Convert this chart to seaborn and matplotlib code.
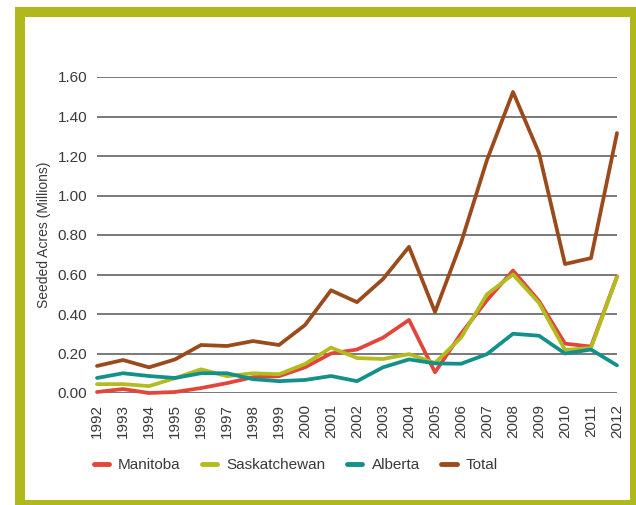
import pandas as pd
import matplotlib.pyplot as plt
import seaborn as sns
from matplotlib.patches import Rectangle

years = list(range(1992, 2013))
manitoba = [0.005, 0.02, 0.0, 0.005, 0.025, 0.05, 0.08, 0.085, 0.13, 0.20, 0.22,
            0.28, 0.37, 0.105, 0.30, 0.47, 0.62, 0.466, 0.25, 0.235, 0.59]
saskatchewan = [0.045, 0.045, 0.035, 0.075, 0.12, 0.085, 0.10, 0.095, 0.147, 0.23, 0.177,
                0.172, 0.197, 0.152, 0.28, 0.50, 0.60, 0.456, 0.218, 0.228, 0.587]
alberta = [0.076, 0.10, 0.086, 0.076, 0.10, 0.10, 0.07, 0.06, 0.066, 0.086, 0.06,
           0.13, 0.17, 0.15, 0.148, 0.197, 0.30, 0.29, 0.20, 0.22, 0.14]
total = [0.137, 0.167, 0.13, 0.17, 0.243, 0.238, 0.263, 0.243, 0.344, 0.52, 0.46,
         0.577, 0.74, 0.41, 0.76, 1.18, 1.524, 1.215, 0.653, 0.683, 1.316]

series = ['Manitoba', 'Saskatchewan', 'Alberta', 'Total']
colors = ['#e2463a', '#b3bc1f', '#14908a', '#9b4a1b']
frame_green = '#b0b91c'

df = pd.DataFrame({'year': years, 'Manitoba': manitoba, 'Saskatchewan': saskatchewan,
                   'Alberta': alberta, 'Total': total})
df_melt = df.melt(id_vars='year', var_name='region', value_name='acres')

sns.set_style('white')
plt.rcParams['font.family'] = ['Liberation Sans', 'DejaVu Sans']

W, H = 636, 505
fig = plt.figure(figsize=(W / 100, H / 100), dpi=100)

# green frame drawn in a background axes
bg = fig.add_axes([0, 0, 1, 1], zorder=-1)
bg.axis('off')
bg.add_patch(Rectangle((15 / W, 0), 1 - 15 / W, 1 - 7 / H, transform=bg.transAxes,
                       facecolor=frame_green, edgecolor='none'))
bg.add_patch(Rectangle((25 / W, 5 / H), (630 - 25) / W, (500 - 17) / H, transform=bg.transAxes,
                       facecolor='white', edgecolor='none'))

ax = fig.add_axes([97 / W, (H - 393) / H, (617 - 97) / W, (393 - 77) / H])
ax.patch.set_alpha(0)

sns.lineplot(data=df_melt, x='year', y='acres', hue='region', hue_order=series,
             palette=colors, linewidth=2.7, ax=ax, legend=False, clip_on=False)

ax.set_xlim(1992, 2012)
ax.set_ylim(0, 1.6)
ax.set_yticks([i * 0.2 for i in range(9)])
ax.set_yticklabels(['{:.2f}'.format(i * 0.2) for i in range(9)], fontsize=11, color='#3a3a3a')
ax.set_xticks(years)
ax.set_xticklabels([str(y) for y in years], rotation=90, fontsize=11, color='#3a3a3a')
ax.tick_params(axis='both', length=0)
ax.tick_params(axis='y', pad=7)
ax.tick_params(axis='x', pad=8)
ax.grid(axis='y', color='#555555', linewidth=1.1)
ax.set_axisbelow(True)
for s in ax.spines.values():
    s.set_visible(False)
ax.set_xlabel('')
ax.set_ylabel('Seeded Acres (Millions)', fontsize=10, color='#3a3a3a', labelpad=5)

handles = [plt.Line2D([], [], color=c, linewidth=3.5, solid_capstyle='round') for c in colors]
fig.legend(handles, series, loc='center left', bbox_to_anchor=(80 / W, 1 - 465 / H),
           ncol=4, frameon=False, fontsize=11, handlelength=1.0, handletextpad=0.6,
           columnspacing=1.4, labelcolor='#3a3a3a')

plt.savefig('out.png', dpi=100)
